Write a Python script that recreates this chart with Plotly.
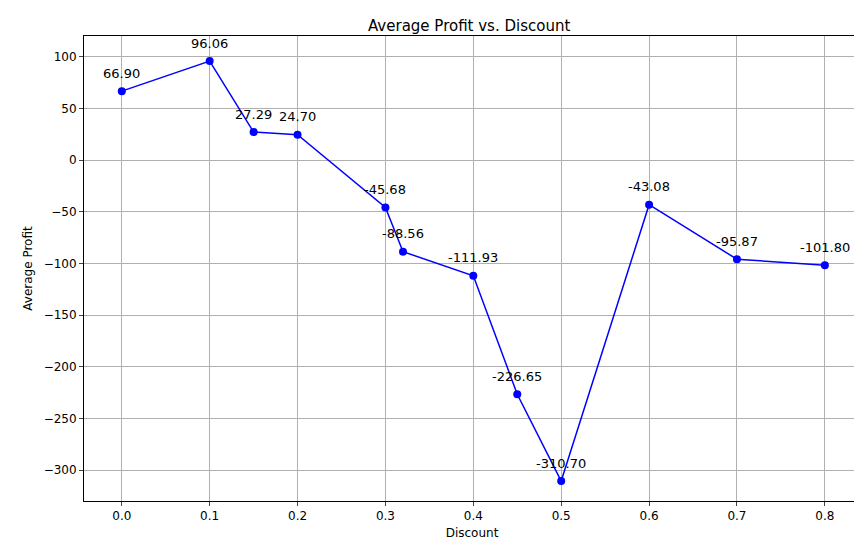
import plotly.graph_objects as go

discount = [0.0, 0.1, 0.15, 0.2, 0.3, 0.32, 0.4, 0.45, 0.5, 0.6, 0.7, 0.8]
avg_profit = [66.90, 96.06, 27.29, 24.70, -45.68, -88.56, -111.93, -226.65, -310.70, -43.08, -95.87, -101.80]
labels = [f"{v:.2f}" for v in avg_profit]

fig = go.Figure()
fig.add_trace(go.Scatter(
    x=discount, y=avg_profit, mode="lines+markers",
    line=dict(color="blue", width=1.5),
    marker=dict(color="blue", size=8),
    showlegend=False,
))
# value labels, offset ~10px above each point
for x, y, t in zip(discount, avg_profit, labels):
    fig.add_annotation(x=x, y=y, text=t, showarrow=False, yshift=18,
                       font=dict(size=13, color="black"))

axis = dict(showgrid=True, gridcolor="#b0b0b0", gridwidth=1, showline=True, mirror=True,
            linecolor="black", linewidth=1, ticks="outside", ticklen=4, zeroline=False,
            automargin=False, tickfont=dict(size=12, color="black"))
fig.update_layout(
    width=862, height=547, paper_bgcolor="white", plot_bgcolor="white",
    margin=dict(l=76, r=10, t=28, b=54),
    font=dict(family="DejaVu Sans", color="black"),
    title=dict(text="Average Profit vs. Discount", x=0.535, xanchor="center",
               yref="container", y=1 - 18 / 547, yanchor="middle", automargin=False,
               font=dict(size=15)),
    xaxis=dict(axis, range=[-0.043, 0.84], tickvals=[0, 0.1, 0.2, 0.3, 0.4, 0.5, 0.6, 0.7, 0.8],
               tickformat=".1f", title=dict(text="Discount", font=dict(size=12), standoff=6)),
    yaxis=dict(axis, range=[-330, 120.3], tickvals=[-300, -250, -200, -150, -100, -50, 0, 50, 100],
               title=dict(text="Average Profit", font=dict(size=12), standoff=8)),
)
fig.write_html("out.html")
